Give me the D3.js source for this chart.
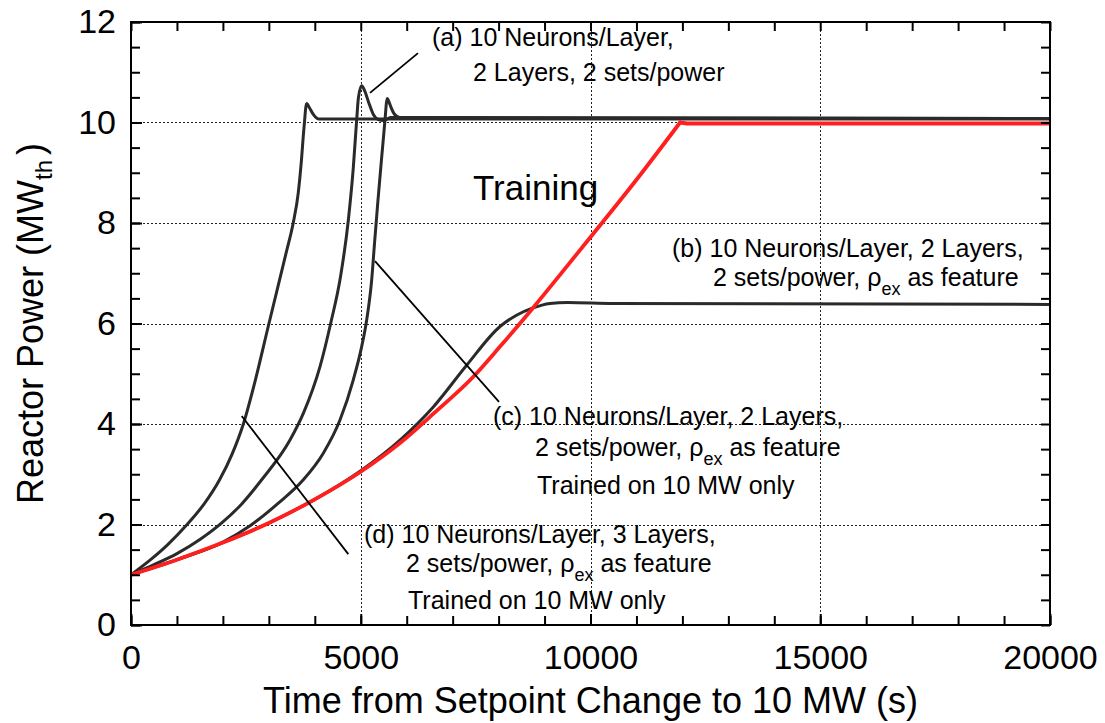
<!DOCTYPE html>
<html>
<head>
<meta charset="utf-8">
<script src="https://cdn.jsdelivr.net/npm/d3@7"></script>
<style>
  body { margin: 0; background: #fff; }
  text { font-family: "Liberation Sans", Arial, Helvetica, sans-serif; fill: #000; }
</style>
</head>
<body>
<svg id="chart" width="1105" height="723"></svg>
<script>
// Axis ticks
const timeTicks = [0, 5000, 10000, 15000, 20000];
const powerTicks = [0, 2, 4, 6, 8, 10, 12];

// Training transient: [time (s), power (MW)]; ramp ends at 10 MW
const training = [
  [0, 1.0], [1000, 1.3], [2000, 1.64], [3000, 2.03], [4000, 2.5], [5000, 3.05],
  [5854, 3.62], [6600, 4.22], [7450, 4.94], [8031, 5.54], [8720, 6.28], [9771, 7.46],
  [11000, 8.86], [11950, 10.0], [12100, 9.98], [20000, 9.98]
];

// (d) 10 neurons/layer, 3 layers, rho_ex feature, trained on 10 MW only
const netD = [
  [0, 1.0], [400, 1.28], [800, 1.6], [1200, 1.98], [1600, 2.42], [1922, 2.88],
  [2200, 3.4], [2445, 4.0], [2700, 4.85], [2989, 5.95], [3228, 6.85], [3380, 7.42],
  [3530, 8.0], [3640, 8.6], [3700, 9.15], [3765, 9.9], [3823, 10.38], [3880, 10.3],
  [3960, 10.17], [4080, 10.07], [20000, 10.07]
];

// (a) 10 neurons/layer, 2 layers, 2 sets/power
const netA = [
  [0, 1.0], [500, 1.2], [1000, 1.42], [1500, 1.7], [2000, 2.05], [2400, 2.4],
  [2844, 2.89], [3460, 3.68], [3750, 4.21], [4113, 5.14], [4345, 6.0], [4563, 6.95],
  [4729, 8.05], [4838, 9.1], [4911, 10.05], [4950, 10.5], [5020, 10.73], [5090, 10.62],
  [5180, 10.38], [5280, 10.15], [5380, 10.06], [5500, 10.04], [5650, 10.1], [20000, 10.08]
];

// (c) 10 neurons/layer, 2 layers, rho_ex feature, trained on 10 MW only
const netC = [
  [0, 1.0], [1000, 1.3], [2000, 1.65], [2600, 1.98], [3200, 2.42], [3750, 2.89],
  [4185, 3.42], [4548, 4.08], [4838, 4.88], [5020, 5.54], [5129, 6.07], [5238, 6.87],
  [5300, 7.6], [5370, 8.4], [5450, 9.25], [5528, 10.05], [5560, 10.4], [5579, 10.48],
  [5610, 10.42], [5660, 10.3], [5730, 10.17], [5850, 10.1], [20000, 10.08]
];

// (b) 10 neurons/layer, 2 layers, rho_ex feature
const netB = [
  [0, 1.0], [1000, 1.3], [2000, 1.64], [3000, 2.03], [4000, 2.5], [5000, 3.07],
  [5854, 3.68], [6579, 4.34], [7305, 5.17], [8031, 5.94], [8400, 6.17], [8720, 6.3],
  [9118, 6.4], [9500, 6.42], [10500, 6.4], [20000, 6.38]
];

// Leader lines for the labels, in data units: [[t0, P0], [t1, P1]]
const leaderA = [[5201, 10.59], [6246, 11.38]];
const leaderC = [[5310, 7.24], [8009, 4.44]];
const leaderD = [[2409, 4.16], [4729, 1.41]];

const svg = d3.select("#chart");
const x = d3.scaleLinear().domain([0, 20000]).range([131, 1050]);
const y = d3.scaleLinear().domain([0, 12]).range([625, 22]);

// Dotted grid at the labelled values
const grid = svg.append("g")
  .attr("stroke", "#222").attr("stroke-width", 1)
  .attr("stroke-dasharray", "2,2").attr("shape-rendering", "crispEdges");
grid.selectAll("line.gx").data(timeTicks.slice(1, -1)).join("line")
  .attr("x1", d => Math.round(x(d)) + 0.5).attr("x2", d => Math.round(x(d)) + 0.5)
  .attr("y1", y(12)).attr("y2", y(0));
grid.selectAll("line.gy").data(powerTicks.slice(1, -1)).join("line")
  .attr("y1", d => Math.round(y(d)) + 0.5).attr("y2", d => Math.round(y(d)) + 0.5)
  .attr("x1", x(0)).attr("x2", x(20000));

// Curves
svg.append("clipPath").attr("id", "plot-clip")
  .append("rect").attr("x", x(0)).attr("y", y(12))
  .attr("width", x(20000) - x(0)).attr("height", y(0) - y(12));

const smooth = d3.line().x(d => x(d[0])).y(d => y(d[1])).curve(d3.curveMonotoneX);
const straight = d3.line().x(d => x(d[0])).y(d => y(d[1]));
const curves = svg.append("g").attr("clip-path", "url(#plot-clip)").attr("fill", "none")
  .attr("stroke-linejoin", "round").attr("stroke-linecap", "round");

[netB, netA, netC, netD].forEach(s => {
  curves.append("path").datum(s).attr("d", smooth)
    .attr("stroke", "#2a2a2a").attr("stroke-width", 3);
});

// Training: smooth rise, then a sharp corner where the ramp meets the plateau
const peak = d3.maxIndex(training, d => d[1]);
const trainRise = training.slice(0, peak + 1);
const trainHold = training.slice(peak);
const trainG = curves.append("g").attr("stroke", "#ff1f1f").attr("stroke-width", 3.8);
trainG.append("path").datum(trainRise).attr("d", smooth);
trainG.append("path").datum(trainHold).attr("d", straight);

// Leader lines
svg.append("g").attr("stroke", "#000").attr("stroke-width", 1.8)
  .selectAll("line").data([leaderA, leaderC, leaderD]).join("line")
  .attr("x1", d => x(d[0][0])).attr("y1", d => y(d[0][1]))
  .attr("x2", d => x(d[1][0])).attr("y2", d => y(d[1][1]));

// Axes: inward ticks on all four sides
const minorT = d3.range(0, 20001, 1000);
const minorP = d3.range(0, 12.01, 0.5);
const noLabel = () => "";

function styleAxis(g) {
  g.select(".domain").remove();
  g.selectAll(".tick line").attr("stroke", "#000").attr("stroke-width", 2);
  g.selectAll(".tick text").attr("font-size", 34).attr("font-family", null);
}

svg.append("g").attr("transform", `translate(0,${y(0)})`)
  .call(d3.axisBottom(x).tickValues(minorT).tickSize(-9).tickFormat(noLabel)).call(styleAxis);
svg.append("g").attr("transform", `translate(0,${y(12)})`)
  .call(d3.axisTop(x).tickValues(minorT).tickSize(-9).tickFormat(noLabel)).call(styleAxis);
svg.append("g").attr("transform", `translate(${x(0)},0)`)
  .call(d3.axisLeft(y).tickValues(minorP).tickSize(-9).tickFormat(noLabel)).call(styleAxis);
svg.append("g").attr("transform", `translate(${x(20000)},0)`)
  .call(d3.axisRight(y).tickValues(minorP).tickSize(-9).tickFormat(noLabel)).call(styleAxis);

svg.append("g").attr("transform", `translate(0,${y(0)})`)
  .call(d3.axisBottom(x).tickValues(timeTicks).tickSize(-11).tickPadding(20).tickFormat(d3.format("d")))
  .call(styleAxis);
svg.append("g").attr("transform", `translate(${x(0)},0)`)
  .call(d3.axisLeft(y).tickValues(powerTicks).tickSize(-11).tickPadding(15).tickFormat(d3.format("d")))
  .call(styleAxis);

// Frame
svg.append("rect").attr("x", x(0)).attr("y", y(12))
  .attr("width", x(20000) - x(0)).attr("height", y(0) - y(12))
  .attr("fill", "none").attr("stroke", "#000").attr("stroke-width", 2);

// Axis titles
svg.append("text").attr("x", (x(0) + x(20000)) / 2).attr("y", 713)
  .attr("text-anchor", "middle").attr("font-size", 36)
  .text("Time from Setpoint Change to 10 MW (s)");

const yt = svg.append("text").attr("transform", `translate(43,${(y(0) + y(12)) / 2}) rotate(-90)`)
  .attr("text-anchor", "middle").attr("font-size", 36);
yt.append("tspan").text("Reactor Power (MW");
yt.append("tspan").attr("font-size", 24).attr("dy", 9).text("th");
yt.append("tspan").attr("dy", -9).attr("dx", 5).text(")");

// Labels
function label(lines) {
  lines.forEach(([px, py, str, rho]) => {
    const t = svg.append("text").attr("x", px).attr("y", py).attr("font-size", 25);
    if (!rho) { t.text(str); return; }
    t.append("tspan").text(str + "ρ");
    t.append("tspan").attr("font-size", 18).attr("dy", 9).text("ex");
    t.append("tspan").attr("dy", -9).text(" as feature");
  });
}
label([
  [432, 46, "(a) 10 Neurons/Layer,"],
  [473, 81, "2 Layers, 2 sets/power"]
]);
label([
  [672, 257, "(b) 10 Neurons/Layer, 2 Layers,"],
  [713, 286, "2 sets/power, ", true]
]);
label([
  [493, 425, "(c) 10 Neurons/Layer, 2 Layers,"],
  [535, 456, "2 sets/power, ", true],
  [537, 494, "Trained on 10 MW only"]
]);
label([
  [364, 543, "(d) 10 Neurons/Layer, 3 Layers,"],
  [406, 572, "2 sets/power, ", true],
  [408, 609, "Trained on 10 MW only"]
]);

svg.append("text").attr("x", 473).attr("y", 200).attr("font-size", 35).text("Training");
</script>
</body>
</html>
